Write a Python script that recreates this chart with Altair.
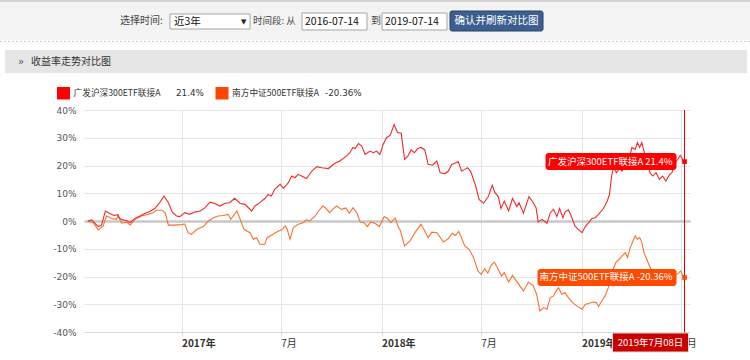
import altair as alt
import pandas as pd

# ---------------- data ----------------
hs300_dates = [
    "2016-07-14", "2016-07-21", "2016-08-02", "2016-08-08", "2016-08-15", "2016-08-23", "2016-08-31",
    "2016-09-07", "2016-09-10", "2016-09-16", "2016-09-23", "2016-09-29", "2016-10-08", "2016-10-17",
    "2016-10-26", "2016-11-04", "2016-11-13", "2016-11-22", "2016-11-30", "2016-12-08", "2016-12-15",
    "2016-12-23", "2016-12-29", "2017-01-07", "2017-01-16", "2017-01-25", "2017-02-04", "2017-02-13",
    "2017-02-22", "2017-03-03", "2017-03-12", "2017-03-21", "2017-03-30", "2017-04-08", "2017-04-18",
    "2017-04-27", "2017-05-09", "2017-05-15", "2017-05-24", "2017-06-02", "2017-06-08", "2017-06-14",
    "2017-06-20", "2017-06-30", "2017-07-06", "2017-07-15", "2017-07-21", "2017-07-27", "2017-08-02",
    "2017-08-08", "2017-08-17", "2017-08-27", "2017-09-05", "2017-09-14", "2017-09-26", "2017-10-08",
    "2017-10-17", "2017-10-29", "2017-11-04", "2017-11-10", "2017-11-14", "2017-11-20", "2017-11-26",
    "2017-12-02", "2017-12-11", "2017-12-17", "2017-12-23", "2017-12-29", "2018-01-04", "2018-01-10",
    "2018-01-17", "2018-01-24", "2018-01-30", "2018-02-06", "2018-02-12", "2018-02-18", "2018-02-24",
    "2018-03-02", "2018-03-08", "2018-03-14", "2018-03-21", "2018-03-27", "2018-04-04", "2018-04-12",
    "2018-04-18", "2018-04-27", "2018-05-03", "2018-05-09", "2018-05-15", "2018-05-21", "2018-05-27",
    "2018-06-02", "2018-06-07", "2018-06-13", "2018-06-21", "2018-06-28", "2018-07-06", "2018-07-15",
    "2018-07-22", "2018-07-27", "2018-08-02", "2018-08-07", "2018-08-13", "2018-08-21", "2018-08-28",
    "2018-09-05", "2018-09-09", "2018-09-17", "2018-09-27", "2018-10-03", "2018-10-10", "2018-10-14",
    "2018-10-21", "2018-10-30", "2018-11-05", "2018-11-11", "2018-11-17", "2018-11-22", "2018-11-28",
    "2018-12-02", "2018-12-08", "2018-12-12", "2018-12-20", "2018-12-26", "2019-01-02", "2019-01-08",
    "2019-01-14", "2019-01-20", "2019-01-26", "2019-02-01", "2019-02-10", "2019-02-17", "2019-02-21",
    "2019-02-25", "2019-02-28", "2019-03-06", "2019-03-11", "2019-03-16", "2019-03-22", "2019-03-26",
    "2019-03-30", "2019-04-03", "2019-04-09", "2019-04-13", "2019-04-17", "2019-04-21", "2019-04-25",
    "2019-05-06", "2019-05-11", "2019-05-17", "2019-05-23", "2019-05-29", "2019-06-04", "2019-06-11",
    "2019-06-15", "2019-06-21", "2019-06-27", "2019-06-30", "2019-07-03", "2019-07-05", "2019-07-08",
]
hs300_values = [
    0.0, 0.4, -2.0, -1.5, 3.6, 2.7, 2.0,
    2.3, 1.0, 0.4, 0.2, -0.6, 0.9, 1.8,
    2.7, 3.4, 4.5, 6.6, 9.0, 6.6, 3.2,
    1.8, 1.6, 3.0, 2.4, 3.2, 3.6, 4.8,
    6.8, 6.3, 5.4, 6.4, 6.6, 8.2, 6.3,
    6.0, 3.6, 5.4, 6.6, 8.1, 9.6, 9.0,
    11.4, 13.2, 11.8, 13.8, 16.2, 15.6, 16.8,
    16.2, 15.3, 18.0, 19.6, 19.2, 18.9, 20.8,
    21.6, 23.4, 24.6, 26.5, 26.1, 27.9, 27.0,
    24.0, 25.2, 24.6, 25.2, 24.0, 27.6, 30.0,
    30.9, 34.8, 31.9, 31.6, 22.2, 23.4, 25.6,
    24.6, 26.1, 26.5, 25.6, 20.4, 20.1, 21.6,
    17.4, 17.1, 18.0, 20.4, 20.8, 21.4, 18.0,
    18.6, 19.2, 17.7, 13.2, 7.8, 6.4, 8.8,
    12.9, 10.2, 8.8, 4.5, 7.2, 3.6, 8.1,
    5.2, 6.6, 2.8, 8.8, 7.2, 4.8, -0.4,
    0.6, -0.8, 3.0, 4.2, 1.6, 4.5, 1.2,
    3.2, 4.0, 2.4, -1.8, -3.0, -4.2, -2.0,
    -0.6, 0.9, 1.2, 2.4, 4.5, 7.2, 9.6,
    16.2, 19.2, 17.4, 18.9, 18.0, 20.1, 19.8,
    23.4, 26.5, 25.8, 28.3, 26.5, 28.3, 25.2,
    17.4, 16.2, 17.4, 15.0, 16.2, 14.4, 16.8,
    17.4, 21.0, 22.5, 23.7, 22.8, 21.9, 21.4,
]

zz500_dates = [
    "2016-07-14", "2016-07-24", "2016-08-02", "2016-08-11", "2016-08-17", "2016-08-26", "2016-09-04",
    "2016-09-07", "2016-09-14", "2016-09-23", "2016-09-29", "2016-10-08", "2016-10-20", "2016-11-01",
    "2016-11-10", "2016-11-16", "2016-11-26", "2016-12-02", "2016-12-08", "2016-12-17", "2017-01-01",
    "2017-01-07", "2017-01-13", "2017-01-19", "2017-01-29", "2017-02-10", "2017-02-19", "2017-02-28",
    "2017-03-09", "2017-03-18", "2017-03-27", "2017-04-01", "2017-04-12", "2017-04-18", "2017-04-25",
    "2017-05-06", "2017-05-12", "2017-05-18", "2017-05-24", "2017-06-02", "2017-06-06", "2017-06-17",
    "2017-06-27", "2017-07-03", "2017-07-09", "2017-07-13", "2017-07-18", "2017-07-24", "2017-08-02",
    "2017-08-11", "2017-08-17", "2017-08-23", "2017-09-02", "2017-09-08", "2017-09-16", "2017-09-22",
    "2017-09-28", "2017-10-04", "2017-10-11", "2017-10-20", "2017-10-28", "2017-11-03", "2017-11-10",
    "2017-11-17", "2017-11-23", "2017-11-30", "2017-12-06", "2017-12-12", "2017-12-20", "2017-12-28",
    "2018-01-06", "2018-01-12", "2018-01-18", "2018-01-26", "2018-02-01", "2018-02-04", "2018-02-12",
    "2018-02-22", "2018-03-03", "2018-03-14", "2018-03-21", "2018-03-27", "2018-04-03", "2018-04-12",
    "2018-04-24", "2018-05-03", "2018-05-10", "2018-05-16", "2018-05-22", "2018-06-02", "2018-06-10",
    "2018-06-18", "2018-06-26", "2018-07-02", "2018-07-08", "2018-07-14", "2018-07-20", "2018-07-26",
    "2018-08-02", "2018-08-08", "2018-08-13", "2018-08-21", "2018-08-28", "2018-09-03", "2018-09-17",
    "2018-09-26", "2018-10-05", "2018-10-11", "2018-10-17", "2018-10-24", "2018-10-30", "2018-11-05",
    "2018-11-11", "2018-11-14", "2018-11-20", "2018-11-26", "2018-12-02", "2018-12-08", "2018-12-16",
    "2018-12-23", "2019-01-02", "2019-01-08", "2019-01-14", "2019-01-22", "2019-01-28", "2019-02-01",
    "2019-02-07", "2019-02-13", "2019-02-19", "2019-02-23", "2019-02-28", "2019-03-05", "2019-03-11",
    "2019-03-16", "2019-03-22", "2019-03-26", "2019-03-31", "2019-04-05", "2019-04-09", "2019-04-13",
    "2019-04-17", "2019-04-21", "2019-04-25", "2019-04-30", "2019-05-05", "2019-05-10", "2019-05-17",
    "2019-05-25", "2019-06-03", "2019-06-12", "2019-06-21", "2019-06-27", "2019-07-01", "2019-07-05",
    "2019-07-08",
]
zz500_values = [
    0.0, -0.6, -3.2, -1.8, 1.8, 0.9, 0.6,
    1.8, -0.8, -0.4, -1.4, 0.6, 1.8, 2.4,
    3.0, 3.9, 3.9, 3.0, -1.5, -1.5, -1.3,
    -1.1, -4.2, -4.8, -3.0, -2.0, 0.0, 1.2,
    1.8, 2.0, 2.4, 0.6, 3.6, 0.6, -3.0,
    -4.2, -6.6, -6.0, -8.4, -8.4, -6.0, -4.8,
    -3.6, -3.2, -1.8, -3.0, -6.6, -2.4, -1.2,
    -0.6, 0.4, 0.0, 1.8, 3.6, 5.4, 4.5,
    3.0, 4.2, 5.4, 4.2, 4.7, 2.8, 4.8,
    3.0, -0.4, -0.6, -2.0, -0.4, -0.8, -2.0,
    1.6, 0.9, -0.6, 1.1, -2.4, -3.2, -9.0,
    -7.2, -4.2, -1.2, -3.6, -6.0, -4.0, -4.2,
    -7.6, -6.3, -4.4, -5.2, -3.7, -9.0, -10.2,
    -13.2, -18.0, -19.2, -17.2, -18.8, -16.0, -14.8,
    -17.4, -19.8, -18.6, -22.0, -19.6, -21.3, -25.2,
    -22.0, -23.4, -26.4, -32.4, -31.2, -31.8, -27.6,
    -27.0, -25.8, -24.0, -26.4, -25.8, -27.6, -29.4,
    -30.6, -31.8, -30.0, -29.7, -29.2, -29.4, -30.8,
    -28.8, -27.0, -24.0, -21.0, -17.4, -14.8, -13.8,
    -12.6, -11.4, -13.2, -9.6, -7.2, -5.4, -6.6,
    -6.0, -7.6, -11.4, -13.8, -16.2, -18.5, -19.5,
    -20.5, -20.0, -19.0, -19.5, -18.8, -18.0, -19.8,
    -20.36,
]

series_names = ["广发沪深300ETF联接A", "南方中证500ETF联接A"]
line_colors = ["#ef2a2a", "#f9702f"]
legend_colors = ["#ff0000", "#ff4500"]
box_colors = ["#ff0000", "#ff4a00"]
final_labels = ["21.4%", "-20.36%"]
hover_date = "2019-07-08"
hover_date_label = "2019年7月08日"
y_ticks = [-40, -30, -20, -10, 0, 10, 20, 30, 40]
x_tick_dates = [(2017, 1), (2017, 7), (2018, 1), (2018, 7), (2019, 1), (2019, 7)]

# ---------------- layout constants ----------------
PL, PT = 84, 110          # plot origin in page pixels
W, H = 606, 222
CJK = "Noto Sans CJK SC"

df_hs = pd.DataFrame({"date": hs300_dates, "value": hs300_values, "series": series_names[0]})
df_zz = pd.DataFrame({"date": zz500_dates, "value": zz500_values, "series": series_names[1]})

hover_rows = pd.DataFrame({
    "date": [hover_date, hover_date],
    "value": [hs300_values[-1], zz500_values[-1]],
    "series": series_names,
    "label": [f"{series_names[0]} {final_labels[0]}", f"{series_names[1]} {final_labels[1]}"],
})
hover_one = pd.DataFrame({"date": [hover_date], "label": [hover_date_label]})
one = pd.DataFrame({"k": [0]})

x_scale = alt.Scale(
    type="utc",
    domain=[alt.DateTime(year=2016, month=7, date=7, utc=True),
            alt.DateTime(year=2019, month=7, date=18, utc=True)],
)
y_scale = alt.Scale(domain=[-40, 40], nice=False, zero=False)

x_axis = alt.Axis(
    values=[alt.DateTime(year=y, month=m, date=1, utc=True) for y, m in x_tick_dates],
    labelExpr="utcmonth(datum.value) == 0 ? utcyear(datum.value) + '年' : (utcmonth(datum.value) + 1) + '月'",
    labelAlign="left", labelBaseline="top", labelPadding=2,
    labelFont=CJK, labelFontSize=10, labelColor="#333333",
    labelFontWeight={"condition": {"test": "utcmonth(datum.value) == 0", "value": "bold"}, "value": "normal"},
    labelOverlap=False, labelFlush=False,
    tickSize=4, tickColor="#dddddd", domainColor="#d6d6d6",
    grid=True, gridColor="#e3e3e3", title=None,
)
y_axis = alt.Axis(
    values=y_ticks, labelExpr="datum.value + '%'",
    labelFont="DejaVu Sans", labelFontSize=9, labelColor="#555555", labelPadding=8,
    labelOverlap=False, labelFlush=False,
    ticks=False, domain=False, grid=True,
    gridColor={"condition": {"test": "datum.value === 0", "value": "#c8c8c8"}, "value": "#e6e6e6"},
    gridWidth={"condition": {"test": "datum.value === 0", "value": 2.5}, "value": 1},
    title=None,
)

xs = alt.X("date:T", scale=x_scale, axis=x_axis)
ys = alt.Y("value:Q", scale=y_scale, axis=y_axis)


def series_line(df, color):
    return alt.Chart(df).mark_line(strokeWidth=1.1, color=color).encode(x=xs, y=ys)


def rect(x1, y1, x2, y2, **kw):
    return alt.Chart(one).mark_rect(**kw).encode(
        x=alt.value(x1 - PL), x2=alt.value(x2 - PL), y=alt.value(y1 - PT), y2=alt.value(y2 - PT))


def text(x, y, s, **kw):
    opts = dict(align="left", baseline="middle", font=CJK, fontSize=11, color="#333333")
    opts.update(kw)
    return alt.Chart(one).mark_text(text=s, **opts).encode(x=alt.value(x - PL), y=alt.value(y - PT))


layers = []
# page header
layers += [
    rect(0, 0, 750, 40, color="#f3f3f3"),
    rect(0, 0, 750, 2, color="#d5d5d5"),
    alt.Chart(one).mark_rule(color="#cfcfcf", strokeDash=[2, 2]).encode(
        x=alt.value(0 - PL), x2=alt.value(750 - PL), y=alt.value(41.5 - PT)),
    text(120, 21, "选择时间:", fontSize=10, color="#444444"),
    rect(170, 14, 250, 29, color="#ffffff", stroke="#a5a5a5", strokeWidth=1),
    text(174, 21.5, "近3年", fontSize=10.5, color="#111111"),
    text(241, 21.5, "▼", fontSize=7, color="#222222", font="DejaVu Sans"),
    text(253, 21, "时间段: 从", fontSize=9.5, color="#444444"),
    rect(302, 13, 367, 30, color="#ffffff", stroke="#a5a5a5", strokeWidth=1),
    text(305, 21.5, "2016-07-14", fontSize=10.5, color="#111111"),
    text(371, 21, "到", fontSize=10, color="#444444"),
    rect(382, 13, 447, 30, color="#ffffff", stroke="#a5a5a5", strokeWidth=1),
    text(385, 21.5, "2019-07-14", fontSize=10.5, color="#111111"),
    rect(450, 11, 543, 31, color="#3c5f8f", stroke="#26426b", strokeWidth=1, cornerRadius=2),
    text(496.5, 21, "确认并刷新对比图", align="center", fontSize=10.5, color="#ffffff"),
    rect(5, 50, 747, 73, color="#e6e6e6"),
    text(18, 61.5, "»", fontSize=10, color="#555555", font="DejaVu Sans"),
    text(31, 61.5, "收益率走势对比图", fontSize=10, color="#333333"),
]
# legend
layers += [
    rect(57, 87, 70, 99.5, color=legend_colors[0]),
    text(73.5, 93, series_names[0], fontSize=8.7, color="#333333"),
    text(176, 93, final_labels[0], fontSize=8.8, color="#333333", font="DejaVu Sans"),
    rect(215.5, 87, 228.5, 99.5, color=legend_colors[1]),
    text(232, 93, series_names[1], fontSize=8.7, color="#333333"),
    text(325, 93, final_labels[1], fontSize=8.8, color="#333333", font="DejaVu Sans"),
]

lines = [series_line(df_zz, line_colors[1]), series_line(df_hs, line_colors[0])]

# hover overlay (crosshair, markers, data labels, date box)
cross = alt.Chart(hover_one).mark_rule(color="#d40000", strokeWidth=1).encode(
    x=xs, y=alt.value(0), y2=alt.value(H + 2))
markers = alt.Chart(hover_rows).mark_point(filled=True, shape="square", size=22, opacity=1).encode(
    x=xs, y=ys, color=alt.Color("series:N", scale=alt.Scale(domain=series_names, range=box_colors), legend=None))
boxes = []
box_widths = [131, 139]
for i in range(2):
    sub = hover_rows.iloc[[i]]
    boxes.append(alt.Chart(sub).mark_rect(
        color=box_colors[i], cornerRadius=3,
        xOffset=-(box_widths[i] + 8), x2Offset=-8, yOffset=-8.5, y2Offset=8.5).encode(
        x=xs, x2="date:T", y=ys, y2="value:Q"))
    boxes.append(alt.Chart(sub).mark_text(
        align="right", baseline="middle", dx=-12, font=CJK, fontSize=9.5, color="#ffffff").encode(
        x=xs, y=ys, text="label:N"))
date_box = alt.Chart(hover_one).mark_rect(
    color="#cc0000", stroke="#dddddd", strokeWidth=1, xOffset=-72, x2Offset=4).encode(
    x=xs, x2="date:T", y=alt.value(H + 1), y2=alt.value(H + 20))
date_text = alt.Chart(hover_one).mark_text(
    align="center", baseline="middle", dx=-34, font=CJK, fontSize=9.5, color="#ffffff").encode(
    x=xs, y=alt.value(H + 10.5), text="label:N")

chart = alt.layer(*lines, *layers, cross, *boxes, markers, date_box, date_text).properties(
    width=W, height=H,
    autosize=alt.AutoSizeParams(type="none"),
    padding={"left": PL, "top": PT, "right": 750 - PL - W, "bottom": 360 - PT - H},
    background="#ffffff",
).configure_view(stroke=None)

chart.save("out.html", embed_options={"renderer": "svg", "actions": False})
